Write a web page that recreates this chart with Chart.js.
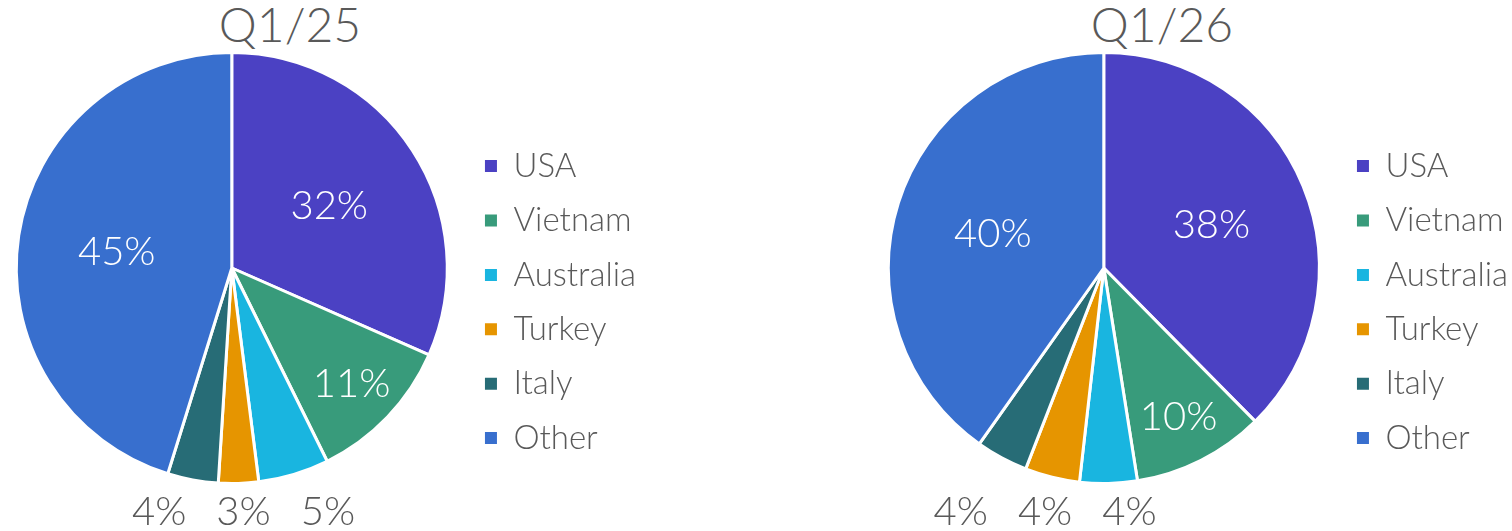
<!DOCTYPE html>
<html>
<head>
<meta charset="utf-8">
<title>Share by country</title>
<script src="https://cdn.jsdelivr.net/npm/chart.js@4.4.1/dist/chart.umd.min.js"></script>
<style>
  html, body { margin: 0; padding: 0; background: #fff; }
  body { width: 1512px; height: 531px; position: relative; overflow: hidden; }
  .panel { position: absolute; top: 0; width: 646px; height: 531px; }
  .panel h2 {
    position: absolute; top: 0; left: 0; width: 580px; margin: 0;
    text-align: center; font: 300 48px/48px Lato, sans-serif; color: #595959;
  }
  .panel canvas { position: absolute; top: 0; left: 0; }
</style>
</head>
<body>
<div class="panel" style="left:0"><h2>Q1/25</h2><canvas id="pie25" width="646" height="531"></canvas></div>
<div class="panel" style="left:872px"><h2>Q1/26</h2><canvas id="pie26" width="646" height="531"></canvas></div>

<script>
// Data (share of total, %)
const countries = ["USA", "Vietnam", "Australia", "Turkey", "Italy", "Other"];
const shareQ125 = [31.6, 11.1, 5.3, 3.0, 3.8, 45.2];
const shareQ126 = [37.6, 9.9, 4.3, 4.1, 3.9, 40.2];
const sliceColors = ["#4b41c3", "#389b7b", "#19b5e0", "#e69500", "#276c76", "#386fce"];

const textColor = "#595959";
const labelSize = 40;

// Percent labels: big slices inside in white, small ones in a row under the pie
const pieLabels = {
  id: "pieLabels",
  afterDatasetsDraw(chart) {
    const { ctx } = chart;
    const values = chart.data.datasets[0].data;
    const total = values.reduce((a, b) => a + b, 0);
    const outside = [];

    ctx.save();
    ctx.font = `300 ${labelSize}px Lato, sans-serif`;
    ctx.textAlign = "center";
    ctx.textBaseline = "alphabetic";

    chart.getDatasetMeta(0).data.forEach((arc, i) => {
      const { x, y, startAngle, endAngle, outerRadius } =
        arc.getProps(["x", "y", "startAngle", "endAngle", "outerRadius"], true);
      const share = values[i] / total;
      const text = Math.round(share * 100) + "%";
      const mid = (startAngle + endAngle) / 2;
      const ux = Math.cos(mid), uy = Math.sin(mid);

      if (share >= 0.08) {
        const d = outerRadius * (share > 0.2 ? 0.54 : 0.77);
        ctx.fillStyle = "#fff";
        ctx.fillText(text, x + ux * d, y + uy * d + labelSize * 0.36);
      } else {
        const w = ctx.measureText(text).width;
        const d = outerRadius + 12;
        outside.push({ text, w, x: x + ux * d + ux * w / 2, y: y + outerRadius + 27 });
      }
    });

    // push small labels apart left to right, then re-centre the group
    outside.sort((a, b) => a.x - b.x);
    const before = outside.reduce((s, l) => s + l.x, 0);
    for (let i = 1; i < outside.length; i++) {
      const minX = outside[i - 1].x + (outside[i - 1].w + outside[i].w) / 2 + 30;
      if (outside[i].x < minX) outside[i].x = minX;
    }
    const after = outside.reduce((s, l) => s + l.x, 0);
    const shift = outside.length ? (before - after) / outside.length : 0;

    ctx.fillStyle = textColor;
    outside.forEach(l => ctx.fillText(l.text, l.x + shift, l.y + labelSize * 0.36));
    ctx.restore();
  },
};

function makePie(id, values) {
  const ctx = document.getElementById(id).getContext("2d");
  return new Chart(ctx, {
    type: "pie",
    data: {
      labels: countries,
      datasets: [
        {
          data: values,
          backgroundColor: sliceColors,
          borderColor: "#fff",
          borderWidth: 3,
          hoverOffset: 0,
        },
      ],
    },
    options: {
      responsive: false,
      animation: false,
      devicePixelRatio: 1,
      layout: { padding: { top: 51, bottom: 46, left: 0, right: 0 } },
      plugins: {
        tooltip: { enabled: false },
        title: { display: false },
        legend: {
          position: "right",
          align: "center",
          // empty title only used to push the entries down a bit
          title: { display: true, text: "", font: { size: 1 }, padding: { top: 67, bottom: 0 } },
          labels: {
            boxWidth: 12,
            boxHeight: 12,
            padding: 21.4,
            color: textColor,
            font: { family: "Lato", size: 33, weight: 300 },
            generateLabels(chart) {
              return Chart.overrides.doughnut.plugins.legend.labels
                .generateLabels(chart)
                .map(item => ({ ...item, lineWidth: 0 }));
            },
          },
        },
      },
    },
    plugins: [pieLabels],
  });
}

makePie("pie25", shareQ125);
makePie("pie26", shareQ126);
</script>
</body>
</html>
